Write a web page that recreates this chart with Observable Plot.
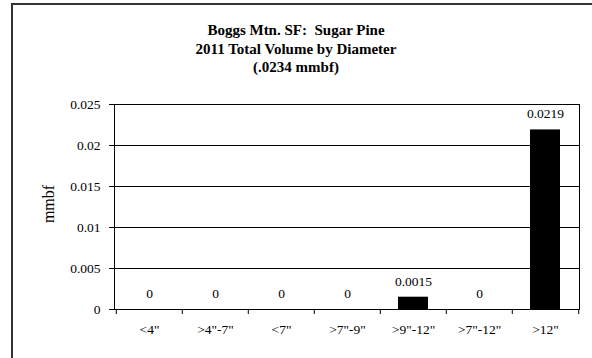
<!DOCTYPE html>
<html><head><meta charset="utf-8">
<script src="https://cdn.jsdelivr.net/npm/d3@7"></script>
<script src="https://cdn.jsdelivr.net/npm/@observablehq/plot@0.6"></script>
<style>
body{margin:0;background:#fff;}
#wrap{position:relative;width:592px;height:358px;overflow:hidden;background:#fff;}
#border{position:absolute;left:11px;top:3px;width:600px;height:400px;border-left:2px solid #333;border-top:2px solid #333;}
#title{position:absolute;left:0;top:21px;width:592px;text-align:center;font:bold 15px "Liberation Serif",serif;line-height:18.5px;color:#000;}
#chart{position:absolute;left:0;top:0;}
</style></head>
<body>
<div id="wrap">
  <div id="border"></div>
  <div id="title">Boggs Mtn. SF:&nbsp; Sugar Pine<br>2011 Total Volume by Diameter<br>(.0234 mmbf)</div>
  <div id="chart"></div>
</div>
<script>
const categories = ['<4"', '>4"-7"', '<7"', '>7"-9"', '>9"-12"', '>7"-12"', '>12"'];
const volumes = [0, 0, 0, 0, 0.0015, 0, 0.0219];
const valueLabels = ["0", "0", "0", "0", "0.0015", "0", "0.0219"];
const yTicks = [0, 0.005, 0.01, 0.015, 0.02, 0.025];
const yTickLabels = ["0", "0.005", "0.01", "0.015", "0.02", "0.025"];
const yTitle = "mmbf";

const data = categories.map((c, i) => ({cat: c, v: volumes[i], label: valueLabels[i]}));
const W = 592, ML = 114, MR = 13;
const bw = (W - ML - MR) / categories.length;

const chart = Plot.plot({
  width: W, height: 358,
  marginLeft: ML, marginRight: MR, marginTop: 104, marginBottom: 49,
  style: {fontFamily: '"Liberation Serif", serif', fontSize: "13.5px", background: "transparent", overflow: "visible", color: "#000"},
  x: {domain: categories, padding: 0, label: null},
  y: {domain: [0, 0.025], label: null},
  marks: [
    Plot.gridY(yTicks, {stroke: "black", strokeOpacity: 1}),
    Plot.barY(data, {x: "cat", y: "v", fill: "black", insetLeft: 18, insetRight: 18}),
    Plot.frame({stroke: "black"}),
    Plot.axisY({ticks: yTicks, tickFormat: d => yTickLabels[yTicks.indexOf(d)], tickSize: 5, tickPadding: 9, label: null}),
    Plot.axisX({tickSize: 0, tickPadding: 15, label: null}),
    Plot.axisX({text: null, tickSize: 5, dx: -bw / 2, label: null}),
    Plot.axisX({ticks: [categories[categories.length - 1]], text: null, tickSize: 5, dx: bw / 2, label: null}),
    Plot.text(data, {x: "cat", y: "v", text: "label", dy: -16, fontSize: 13.5}),
    Plot.text([yTitle], {text: d => d, frameAnchor: "left", textAnchor: "middle", dx: -66, dy: -3, rotate: -90, fontSize: 16})
  ]
});
document.getElementById("chart").appendChild(chart);
</script>
</body></html>
